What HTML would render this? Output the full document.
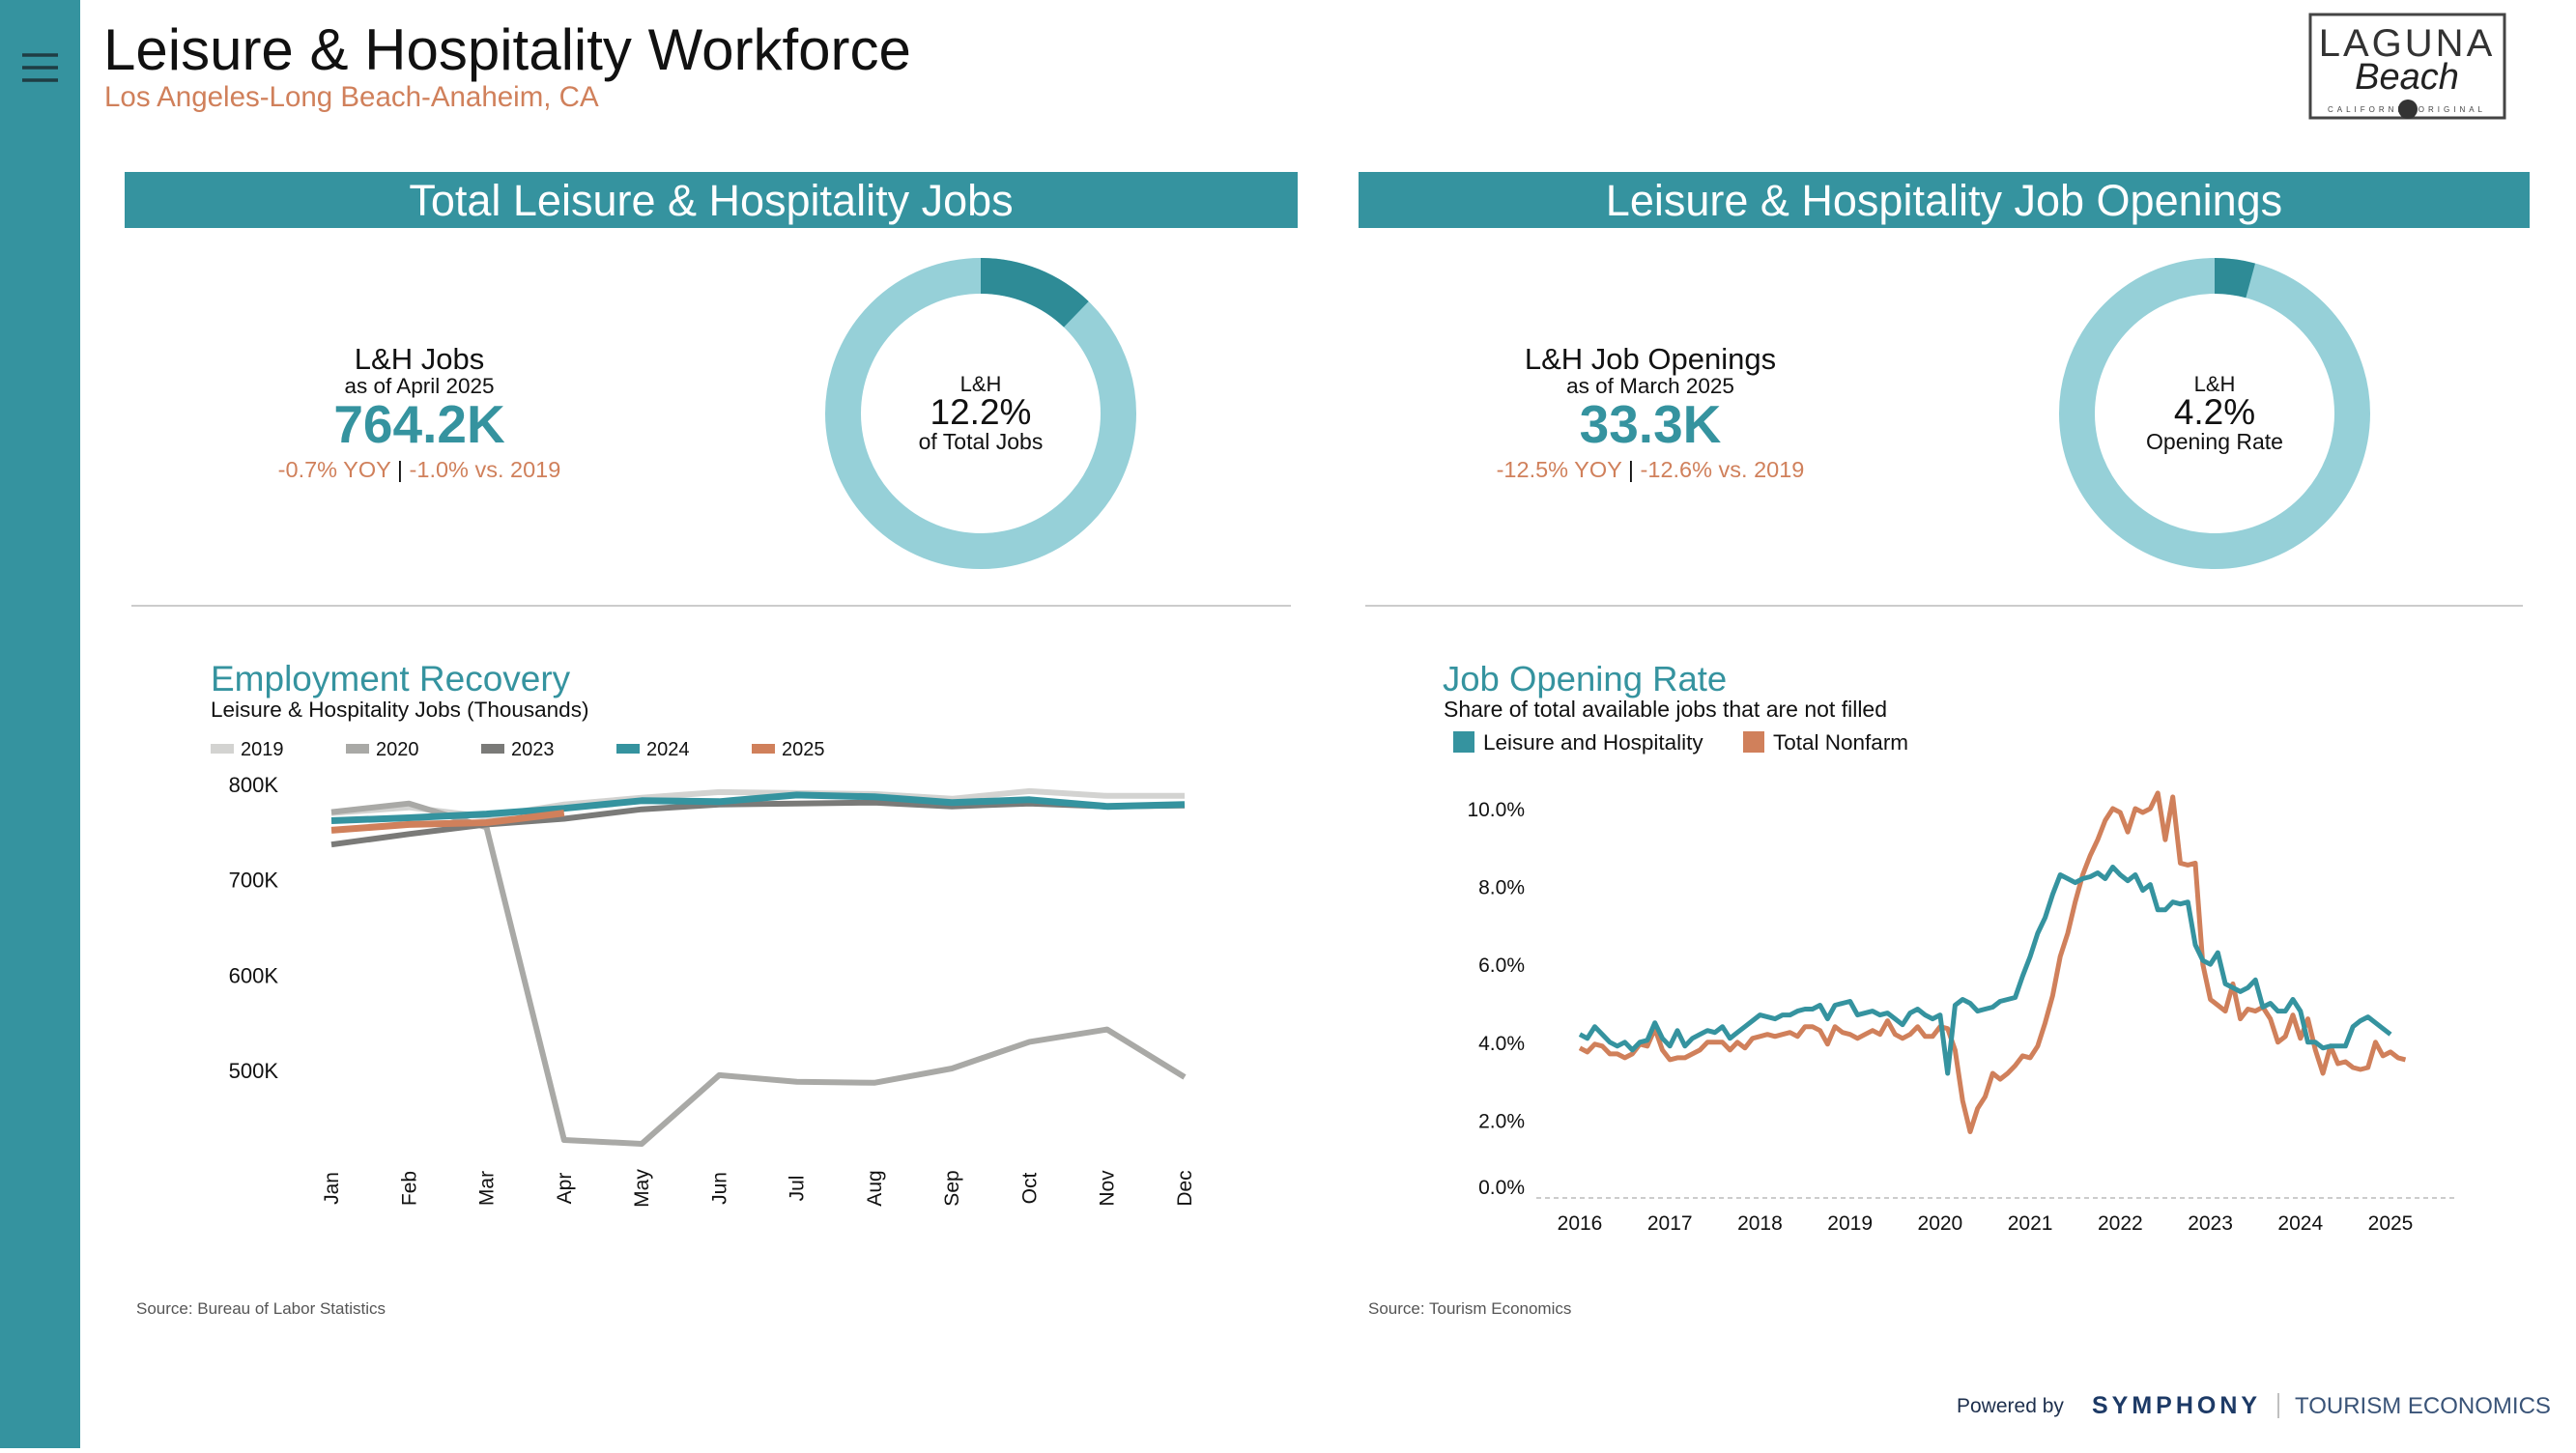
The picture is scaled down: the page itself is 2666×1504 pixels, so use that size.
<!DOCTYPE html>
<html><head><meta charset="utf-8">
<style>
html,body{margin:0;padding:0;background:#fff;}
body{width:2666px;height:1499px;overflow:hidden;font-family:"Liberation Sans","DejaVu Sans",sans-serif;}
svg text{font-family:"Liberation Sans","DejaVu Sans",sans-serif;}
</style></head>
<body>
<svg id="page" width="2666" height="1499" viewBox="0 0 2666 1499" xmlns="http://www.w3.org/2000/svg">
  <rect x="0" y="0" width="83" height="1499" fill="#35939f"/>
  <g stroke="#1f3d44" stroke-width="3.5">
    <line x1="23" y1="57" x2="60" y2="57"/><line x1="23" y1="70" x2="60" y2="70"/><line x1="23" y1="83" x2="60" y2="83"/>
  </g>
  <text x="107" y="72" font-size="60" fill="#111">Leisure &amp; Hospitality Workforce</text>
  <text x="108" y="110" font-size="29.5" fill="#d0805b">Los Angeles-Long Beach-Anaheim, CA</text>

  <g>
    <rect x="2391" y="15" width="201" height="107" fill="#fff" stroke="#444" stroke-width="3"/>
    <text x="2491" y="58" font-size="40" text-anchor="middle" fill="#333" letter-spacing="3">LAGUNA</text>
    <text x="2491" y="92" font-size="38" font-style="italic" text-anchor="middle" fill="#222" font-family="Liberation Serif,serif">Beach</text>
    <text x="2491" y="116" font-size="8" text-anchor="middle" fill="#444" letter-spacing="4">CALIFORNIA   ORIGINAL</text>
    <circle cx="2492" cy="113" r="10" fill="#333"/>
  </g>

  <rect x="129" y="178" width="1214" height="58" fill="#35939f"/>
  <text x="736" y="223" font-size="45" fill="#fff" text-anchor="middle">Total Leisure &amp; Hospitality Jobs</text>
  <rect x="1406" y="178" width="1212" height="58" fill="#35939f"/>
  <text x="2012" y="223" font-size="45" fill="#fff" text-anchor="middle">Leisure &amp; Hospitality Job Openings</text>

  <g text-anchor="middle">
    <text x="434" y="382" font-size="31" fill="#111">L&amp;H Jobs</text>
    <text x="434" y="407" font-size="22.5" fill="#111">as of April 2025</text>
    <text x="434" y="458" font-size="55" font-weight="bold" fill="#35939f">764.2K</text>
    <text x="434" y="494" font-size="23.5" fill="#d0805b"><tspan>-0.7% YOY </tspan><tspan fill="#111">|</tspan><tspan> -1.0% vs. 2019</tspan></text>
  </g>
  <g text-anchor="middle">
    <text x="1708" y="382" font-size="31" fill="#111">L&amp;H Job Openings</text>
    <text x="1708" y="407" font-size="22.5" fill="#111">as of March 2025</text>
    <text x="1708" y="458" font-size="55" font-weight="bold" fill="#35939f">33.3K</text>
    <text x="1708" y="494" font-size="23.5" fill="#d0805b"><tspan>-12.5% YOY </tspan><tspan fill="#111">|</tspan><tspan> -12.6% vs. 2019</tspan></text>
  </g>
  <g id="donuts"></g>

  <line x1="136" y1="627" x2="1336" y2="627" stroke="#ccc" stroke-width="2"/>
  <line x1="1413" y1="627" x2="2611" y2="627" stroke="#ccc" stroke-width="2"/>

  <text x="218" y="715" font-size="37" fill="#35939f">Employment Recovery</text>
  <text x="218" y="742" font-size="22.5" fill="#111">Leisure &amp; Hospitality Jobs (Thousands)</text>
  <g id="leftchart"></g>

  <text x="1493" y="715" font-size="36.5" fill="#35939f">Job Opening Rate</text>
  <text x="1494" y="742" font-size="23" fill="#111">Share of total available jobs that are not filled</text>
  <g id="rightchart"></g>

  <text x="141" y="1360" font-size="17" fill="#555">Source: Bureau of Labor Statistics</text>
  <text x="1416" y="1360" font-size="17" fill="#555">Source: Tourism Economics</text>

  <g>
    <text x="2025" y="1462" font-size="21" fill="#1d2f4d">Powered by</text>
    <text x="2165" y="1463" font-size="25" font-weight="bold" fill="#1d3a66" letter-spacing="4">SYMPHONY</text>
    <line x1="2358" y1="1442" x2="2358" y2="1468" stroke="#aaa" stroke-width="1.5"/>
    <text x="2375" y="1463" font-size="24" fill="#3a5478">TOURISM ECONOMICS</text>
  </g>
</svg>
<script>
const NS="http://www.w3.org/2000/svg";
function mk(parent,tag,attrs){const e=document.createElementNS(NS,tag);for(const k in attrs)e.setAttribute(k,attrs[k]);parent.appendChild(e);return e;}

// ---- Donut data ----
const donutShares=[12.2,4.2];
const donutLabels=["12.2%","4.2%"];
const donutCaptions=["of Total Jobs","Opening Rate"];
const donutCenters=[[1015,428],[2292,428]];
const dg=document.getElementById('donuts');
donutShares.forEach((v,i)=>{
  const [cx,cy]=donutCenters[i];const R=161,r=124;
  const g=mk(dg,'g',{});
  
  
  mk(g,'circle',{cx:cx,cy:cy,r:(R+r)/2,fill:'none',stroke:'#96d0d8','stroke-width':R-r});
  const a=v/100*2*Math.PI;
  const p=(rad,ang)=>[cx+rad*Math.sin(ang),cy-rad*Math.cos(ang)];
  const [x1,y1]=p(R,0),[x2,y2]=p(R,a),[x3,y3]=p(r,a),[x4,y4]=p(r,0);
  const s=mk(g,'path',{d:`M${x1},${y1}A${R},${R} 0 0 1 ${x2},${y2}L${x3},${y3}A${r},${r} 0 0 0 ${x4},${y4}Z`,fill:'#2e8b96'});
  
  
  const t=mk(g,'text',{x:cx,y:cy-23,'font-size':22,'text-anchor':'middle',fill:'#111'});t.textContent='L&H';
  const t2=mk(g,'text',{x:cx,y:cy+11,'font-size':37,'text-anchor':'middle',fill:'#111'});t2.textContent=donutLabels[i];
  const t3=mk(g,'text',{x:cx,y:cy+37,'font-size':23,'text-anchor':'middle',fill:'#111'});t3.textContent=donutCaptions[i];
});

// ---- Employment Recovery chart ----
const months=["Jan","Feb","Mar","Apr","May","Jun","Jul","Aug","Sep","Oct","Nov","Dec"];
const empYTicks=[800,700,600,500];
const empYTickLabels=["800K","700K","600K","500K"];
const years=["2019","2020","2023","2024","2025"];
const yearColors=["#d3d3d1","#a9a9a6","#7a7a78","#35939f","#d0805b"];
const jobs2019=[770,776,766,779,786,792,791,790,785,793,788,788];
const jobs2020=[771,780,755,427,423,495,488,487,502,530,543,493];
const jobs2023=[737,748,758,764,774,779,780,781,777,780,777,778];
const jobs2024=[762,765,769,775,783,782,789,787,781,784,777,779];
const jobs2025=[752,758,760,770];
const jobSeries=[jobs2019,jobs2020,jobs2023,jobs2024,jobs2025];
const LX=i=>343+i*(1226-343)/11;
const LY=v=>812-(v-800)*(1108-812)/(500-800)*-1;
const lc=document.getElementById('leftchart');
empYTicks.forEach((v,i)=>{
  const t=mk(lc,'text',{x:288,y:LY(v)+8,'font-size':22,'text-anchor':'end',fill:'#111'});
  
  
  t.textContent=empYTickLabels[i];
});
months.forEach((m,i)=>{
  const x=LX(i);
  const t=mk(lc,'text',{x:0,y:0,'font-size':21,'text-anchor':'middle',fill:'#111',transform:`translate(${x+7},1230) rotate(-90)`});
  
  
  t.textContent=m;
});
const legX=[218,358,498,638,778];
years.forEach((y,i)=>{
  const g=mk(lc,'g',{});
  
  
  mk(g,'rect',{x:legX[i],y:770,width:24,height:10,fill:yearColors[i]});
  const t=mk(g,'text',{x:legX[i]+31,y:782,'font-size':20,fill:'#111'});t.textContent=y;
});
jobSeries.forEach((s,si)=>{
  const d=s.map((v,i)=>(i?'L':'M')+LX(i).toFixed(1)+','+LY(v).toFixed(1)).join('');
  const p=mk(lc,'path',{d:d,fill:'none',stroke:yearColors[si],'stroke-width':si===3||si===4?7:6,'stroke-linejoin':'round'});
  
  
});

// ---- Job Opening Rate chart ----
const rateYTicks=[0,2,4,6,8,10];
const rateYTickLabels=["0.0%","2.0%","4.0%","6.0%","8.0%","10.0%"];
const rateXTicks=["2016","2017","2018","2019","2020","2021","2022","2023","2024","2025"];
const leisureRate=[4.2,4.1,4.4,4.2,4.0,3.9,4.0,3.8,4.0,4.05,4.5,4.1,
3.9,4.3,3.9,4.1,4.2,4.3,4.25,4.4,4.1,4.25,4.4,4.55,
4.7,4.65,4.6,4.7,4.7,4.8,4.85,4.85,4.95,4.6,4.95,5.0,
5.05,4.7,4.75,4.8,4.7,4.75,4.6,4.45,4.75,4.85,4.7,4.6,
4.7,3.2,4.95,5.1,5.0,4.8,4.85,4.9,5.05,5.1,5.15,5.7,
6.2,6.8,7.2,7.8,8.3,8.2,8.1,8.2,8.25,8.35,8.2,8.5,
8.3,8.15,8.3,7.9,8.05,7.4,7.4,7.6,7.55,7.6,6.5,6.1,
6.0,6.3,5.5,5.4,5.3,5.4,5.6,4.9,5.0,4.8,4.8,5.1,
4.8,4.0,4.0,3.85,3.9,3.9,3.9,4.4,4.55,4.65,4.5,4.35,4.2];
const nonfarmRate=[3.85,3.75,3.95,3.9,3.7,3.7,3.6,3.7,3.95,3.9,4.35,3.8,
3.55,3.6,3.6,3.7,3.8,4.0,4.0,4.0,3.8,4.0,3.85,4.1,
4.15,4.2,4.15,4.2,4.25,4.15,4.4,4.4,4.3,3.95,4.4,4.25,
4.2,4.1,4.2,4.3,4.2,4.55,4.2,4.1,4.2,4.4,4.15,4.15,
4.4,4.35,3.8,2.5,1.7,2.3,2.6,3.2,3.05,3.2,3.4,3.65,
3.6,3.9,4.5,5.2,6.2,6.8,7.6,8.3,8.8,9.2,9.7,10.0,
9.9,9.4,10.0,9.9,10.0,10.4,9.2,10.3,8.6,8.55,8.6,6.0,
5.1,4.95,4.8,5.5,4.6,4.85,4.8,4.9,4.6,4.0,4.15,4.7,
4.1,4.6,3.8,3.2,3.9,3.45,3.5,3.35,3.3,3.35,4.0,3.65,3.75,3.6,3.55];
const RX=m=>1635+m*(2474-1635)/108;
const RY=v=>1240-v*40.3;
const rc=document.getElementById('rightchart');
mk(rc,'line',{x1:1590,y1:1240,x2:2540,y2:1240,stroke:'#ccc','stroke-width':2,'stroke-dasharray':'5,4'});
rateYTicks.forEach((v,i)=>{
  const t=mk(rc,'text',{x:1578,y:RY(v)+8-(v===0?12:0),'font-size':21,'text-anchor':'end',fill:'#111'});
  
  
  t.textContent=rateYTickLabels[i];
});
rateXTicks.forEach((y,i)=>{
  const t=mk(rc,'text',{x:RX(i*12),y:1273,'font-size':21,'text-anchor':'middle',fill:'#111'});
  
  
  t.textContent=y;
});
const rateNames=["Leisure and Hospitality","Total Nonfarm"];
const rateColors=["#35939f","#d0805b"];
const rLegX=[1504,1804];
rateNames.forEach((n,i)=>{
  const g=mk(rc,'g',{});
  
  
  mk(g,'rect',{x:rLegX[i],y:757,width:22,height:22,fill:rateColors[i]});
  const t=mk(g,'text',{x:rLegX[i]+31,y:776,'font-size':22.5,fill:'#111'});t.textContent=n;
});
[nonfarmRate,leisureRate].forEach((s,k)=>{
  const si=k===0?1:0;
  const d=s.map((v,i)=>(i?'L':'M')+RX(i).toFixed(1)+','+RY(v).toFixed(1)).join('');
  const p=mk(rc,'path',{d:d,fill:'none',stroke:rateColors[si],'stroke-width':5,'stroke-linejoin':'round'});
  
  
});
</script>
</body></html>
